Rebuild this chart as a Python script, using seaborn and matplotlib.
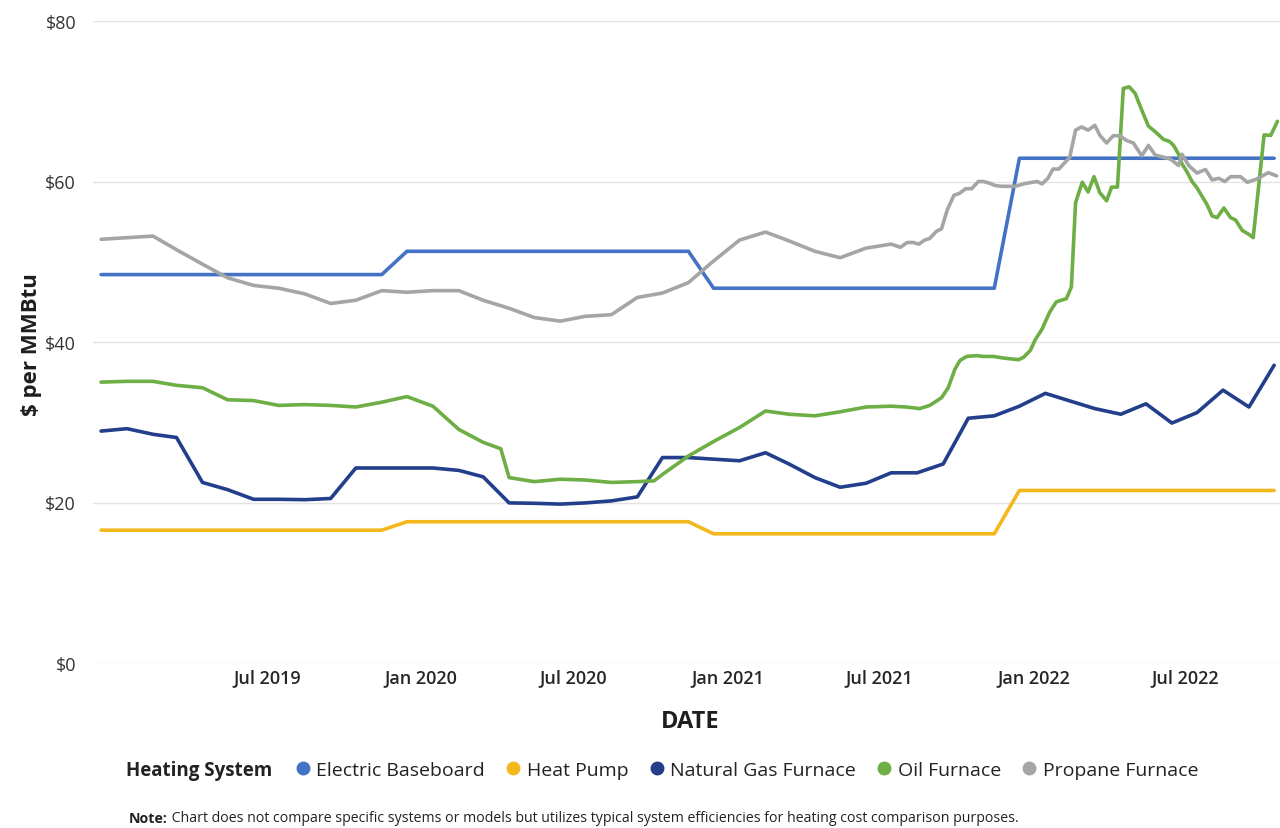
import matplotlib
matplotlib.use("Agg")
import matplotlib.pyplot as plt
import matplotlib.dates as mdates
from matplotlib.lines import Line2D
import seaborn as sns
import pandas as pd

# ---------------- data ----------------
months = pd.date_range("2018-12-01", periods=47, freq="MS") + pd.Timedelta(days=14)

electric_values = [48.4, 48.4, 48.4, 48.4, 48.4, 48.4, 48.4, 48.4, 48.4, 48.4, 48.4, 48.4,
                   51.3, 51.3, 51.3, 51.3, 51.3, 51.3, 51.3, 51.3, 51.3, 51.3, 51.3, 51.3,
                   46.7, 46.7, 46.7, 46.7, 46.7, 46.7, 46.7, 46.7, 46.7, 46.7, 46.7, 46.7,
                   62.9, 62.9, 62.9, 62.9, 62.9, 62.9, 62.9, 62.9, 62.9, 62.9, 62.9]

heat_pump_values = [16.55, 16.55, 16.55, 16.55, 16.55, 16.55, 16.55, 16.55, 16.55, 16.55, 16.55, 16.55,
                    17.6, 17.6, 17.6, 17.6, 17.6, 17.6, 17.6, 17.6, 17.6, 17.6, 17.6, 17.6,
                    16.1, 16.1, 16.1, 16.1, 16.1, 16.1, 16.1, 16.1, 16.1, 16.1, 16.1, 16.1,
                    21.5, 21.5, 21.5, 21.5, 21.5, 21.5, 21.5, 21.5, 21.5, 21.5, 21.5]

natural_gas_values = [28.9, 29.2, 28.5, 28.1, 22.5, 21.6, 20.4, 20.4, 20.35, 20.5,
                      24.3, 24.3, 24.3, 24.3, 24.0, 23.2, 19.95, 19.9, 19.8, 19.95,
                      20.2, 20.7, 25.6, 25.6, 25.4, 25.2, 26.2, 24.8, 23.1, 21.9,
                      22.4, 23.7, 23.7, 24.8, 30.5, 30.8, 32.0, 33.6, 32.6, 31.7,
                      31.0, 32.3, 29.9, 31.2, 34.0, 31.9, 37.1]

oil_dates = ["2018-12-15", "2019-01-15", "2019-02-15", "2019-03-15", "2019-04-15", "2019-05-15",
             "2019-06-15", "2019-07-15", "2019-08-15", "2019-09-15", "2019-10-15", "2019-11-15",
             "2019-12-15", "2020-01-15", "2020-02-15", "2020-03-15", "2020-04-05", "2020-04-15",
             "2020-05-15", "2020-06-15", "2020-07-15", "2020-08-15", "2020-09-15", "2020-10-05",
             "2020-10-15", "2020-11-15", "2020-12-15", "2021-01-15", "2021-02-15", "2021-03-15",
             "2021-04-15", "2021-05-15", "2021-06-15", "2021-07-15", "2021-08-02", "2021-08-18",
             "2021-08-30", "2021-09-13", "2021-09-21", "2021-09-29", "2021-10-05", "2021-10-13",
             "2021-10-25", "2021-11-02", "2021-11-14", "2021-11-26", "2021-12-14", "2021-12-20",
             "2021-12-28", "2022-01-03", "2022-01-11", "2022-01-20", "2022-01-28", "2022-02-09",
             "2022-02-15", "2022-02-20", "2022-02-28", "2022-03-07", "2022-03-14", "2022-03-21",
             "2022-03-29", "2022-04-04", "2022-04-11", "2022-04-18", "2022-04-25", "2022-05-02",
             "2022-05-10", "2022-05-18", "2022-05-25", "2022-06-05", "2022-06-12", "2022-06-17",
             "2022-06-23", "2022-06-27", "2022-07-03", "2022-07-09", "2022-07-15", "2022-07-27",
             "2022-08-02", "2022-08-08", "2022-08-16", "2022-08-24", "2022-08-30", "2022-09-07",
             "2022-09-15", "2022-09-20", "2022-10-03", "2022-10-11", "2022-10-19"]
oil_values = [35.0, 35.1, 35.1, 34.6, 34.3, 32.8,
              32.7, 32.1, 32.2, 32.1, 31.9, 32.5,
              33.2, 32.0, 29.1, 27.5, 26.7, 23.1,
              22.6, 22.9, 22.8, 22.5, 22.6, 22.7,
              23.5, 25.8, 27.6, 29.35, 31.4, 31.0,
              30.8, 31.3, 31.9, 32.0, 31.9, 31.7,
              32.1, 33.05, 34.3, 36.6, 37.7, 38.2,
              38.3, 38.2, 38.2, 38.0, 37.8, 38.1,
              38.95, 40.3, 41.6, 43.7, 45.0, 45.4,
              46.85, 57.35, 59.9, 58.7, 60.6, 58.6,
              57.6, 59.3, 59.3, 71.6, 71.8, 71.0,
              68.9, 66.9, 66.3, 65.25, 65.0, 64.5,
              63.4, 62.2, 61.2, 60.0, 59.2, 57.1,
              55.7, 55.5, 56.7, 55.5, 55.2, 53.9,
              53.4, 53.0, 65.8, 65.75, 67.5]

propane_monthly_values = [52.8, 53.0, 53.2, 51.5, 49.7, 48.0, 47.05, 46.7, 46.0, 44.8,
                          45.2, 46.4, 46.2, 46.4, 46.4, 45.2, 44.2, 43.05, 42.6, 43.2,
                          43.4, 45.55, 46.1, 47.4, 50.1, 52.7, 53.7, 52.6, 51.3, 50.5,
                          51.7, 52.2]
propane_weekly_dates = ["2021-07-26", "2021-08-03", "2021-08-10", "2021-08-17", "2021-08-24",
                        "2021-08-30", "2021-09-07", "2021-09-13", "2021-09-20", "2021-09-28",
                        "2021-10-04", "2021-10-12", "2021-10-19", "2021-10-27", "2021-11-02",
                        "2021-11-09", "2021-11-16", "2021-11-24", "2021-12-10", "2021-12-22",
                        "2022-01-05", "2022-01-11", "2022-01-18", "2022-01-24", "2022-01-31",
                        "2022-02-13", "2022-02-20", "2022-02-27", "2022-03-07", "2022-03-15",
                        "2022-03-21", "2022-03-29", "2022-04-06", "2022-04-14", "2022-04-22",
                        "2022-04-30", "2022-05-10", "2022-05-18", "2022-05-26", "2022-06-13",
                        "2022-06-23", "2022-06-27", "2022-07-05", "2022-07-15", "2022-07-25",
                        "2022-08-02", "2022-08-10", "2022-08-17", "2022-08-24", "2022-09-05",
                        "2022-09-13", "2022-09-24", "2022-10-08", "2022-10-18"]
propane_weekly_values = [51.8, 52.4, 52.4, 52.2, 52.7,
                         52.9, 53.8, 54.1, 56.5, 58.3,
                         58.5, 59.1, 59.1, 60.0, 60.0,
                         59.8, 59.5, 59.4, 59.4, 59.75,
                         60.0, 59.7, 60.4, 61.55, 61.55,
                         63.0, 66.4, 66.8, 66.4, 67.0,
                         65.75, 64.8, 65.7, 65.7, 65.1,
                         64.8, 63.2, 64.5, 63.3, 62.8,
                         62.0, 63.4, 62.0, 61.05, 61.5,
                         60.2, 60.4, 60.0, 60.6, 60.6,
                         59.9, 60.3, 61.1, 60.7]

series_names = ["Electric Baseboard", "Heat Pump", "Natural Gas Furnace", "Oil Furnace", "Propane Furnace"]
series_colors = ["#4472C4", "#F4B81C", "#233E8B", "#6DAE45", "#A5A5A5"]

tick_dates = ["2019-07-01", "2020-01-01", "2020-07-01", "2021-01-01", "2021-07-01", "2022-01-01", "2022-07-01"]
tick_labels = ["Jul 2019", "Jan 2020", "Jul 2020", "Jan 2021", "Jul 2021", "Jan 2022", "Jul 2022"]
y_ticks = [0, 20, 40, 60, 80]
y_tick_labels = ["$0", "$20", "$40", "$60", "$80"]

# ---------------- build long frame ----------------
frames = [
    pd.DataFrame({"date": months, "value": electric_values, "system": series_names[0]}),
    pd.DataFrame({"date": months, "value": heat_pump_values, "system": series_names[1]}),
    pd.DataFrame({"date": months, "value": natural_gas_values, "system": series_names[2]}),
    pd.DataFrame({"date": pd.to_datetime(oil_dates), "value": oil_values, "system": series_names[3]}),
    pd.DataFrame({"date": list(months[:len(propane_monthly_values)]) + list(pd.to_datetime(propane_weekly_dates)),
                  "value": propane_monthly_values + propane_weekly_values, "system": series_names[4]}),
]
df = pd.concat(frames, ignore_index=True)

# ---------------- plot ----------------
sns.set_theme(style="white")
plt.rcParams["font.family"] = ["Open Sans", "DejaVu Sans"]

W, H = 1280, 829
fig = plt.figure(figsize=(W / 100, H / 100), dpi=100)
ax = fig.add_axes([92.7 / W, 1 - 664 / H, 1 - 92.7 / W, (664 - 22) / H])

palette = dict(zip(series_names, series_colors))
sns.lineplot(data=df, x="date", y="value", hue="system", hue_order=series_names,
             palette=palette, linewidth=2.6, estimator=None, sort=True, legend=False, ax=ax)

ax.set_ylim(0, 80)
ax.set_xlim(pd.Timestamp("2018-12-05"), pd.Timestamp("2022-10-22"))
ax.set_yticks(y_ticks)
ax.set_yticklabels(y_tick_labels)
ax.set_xticks(pd.to_datetime(tick_dates))
ax.set_xticklabels(tick_labels)
ax.grid(axis="y", color="#E3E3E3", linewidth=1.0)
ax.grid(axis="x", visible=False)
ax.set_axisbelow(True)
for s in ax.spines.values():
    s.set_visible(False)
ax.tick_params(axis="y", length=0, pad=12, labelsize=13, labelcolor="#333333")
ax.tick_params(axis="x", length=0, pad=4, labelsize=13, labelcolor="#262626")
for lab in ax.get_xticklabels():
    lab.set_fontweight("semibold")
ax.set_xlabel("")
ax.set_ylabel("")

fig.text(31 / W, 1 - 345 / H, "$ per MMBtu", rotation=90, ha="center", va="center",
         fontsize=16, fontweight="bold", color="#1E1E1E")
fig.text(690 / W, 1 - 722 / H, "DATE", ha="center", va="center",
         fontsize=17, fontweight="bold", color="#1E1E1E")

# legend
fig.text(126 / W, 1 - 771 / H, "Heating System", ha="left", va="center",
         fontsize=13.5, fontweight="bold", color="#222222")
handles = [Line2D([], [], marker="o", linestyle="none", color=c, markersize=9) for c in series_colors]
fig.legend(handles, series_names, ncol=5, loc="center left",
           bbox_to_anchor=(295 / W, 1 - 771 / H), frameon=False, fontsize=14,
           handlelength=0.8, handletextpad=0.3, columnspacing=1.05, borderpad=0,
           borderaxespad=0, labelcolor="#222222")

# note
note_bold = fig.text(129 / W, 1 - 819 / H, "Note:", ha="left", va="center",
                     fontsize=10.2, fontweight="bold", color="#222222")
ax.annotate(" Chart does not compare specific systems or models but utilizes typical system efficiencies for heating cost comparison purposes.",
            xy=(1, 0), xycoords=note_bold, ha="left", va="bottom",
            fontsize=10.2, color="#222222", annotation_clip=False)

fig.savefig("out.png", dpi=100)
